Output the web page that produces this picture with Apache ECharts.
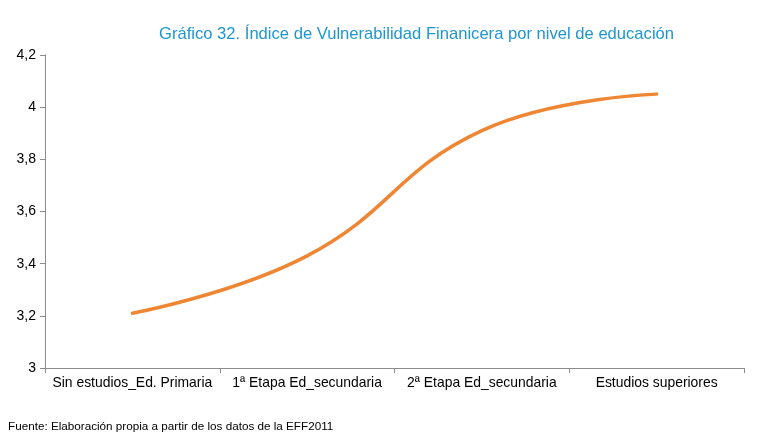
<!DOCTYPE html>
<html>
<head>
<meta charset="utf-8">
<script src="https://cdn.jsdelivr.net/npm/echarts@6/dist/echarts.min.js"></script>
<style>
html,body{margin:0;padding:0;background:#fff;}
#chart{width:763px;height:438px;}
</style>
</head>
<body>
<div id="chart"></div>
<script>
var categories = ['Sin estudios_Ed. Primaria', '1ª Etapa Ed_secundaria', '2ª Etapa Ed_secundaria', 'Estudios superiores'];
var values = [3.21, 3.43, 3.91, 4.05];
var yMin = 3, yMax = 4.2, yStep = 0.2;
var titleText = 'Gráfico 32. Índice de Vulnerabilidad Finanicera por nivel de educación';
var sourceText = 'Fuente: Elaboración propia a partir de los datos de la EFF2011';

var chart = echarts.init(document.getElementById('chart'), null, {renderer: 'canvas'});
var font = 'Liberation Sans, Arial, sans-serif';
chart.setOption({
  animation: false,
  backgroundColor: '#fff',
  title: {
    text: titleText,
    left: 154,
    top: 21,
    textStyle: {color: '#1E96D2', fontSize: 16.6, fontWeight: 'normal', fontFamily: font}
  },
  graphic: [{
    type: 'text',
    left: 8,
    top: 421,
    style: {text: sourceText, fill: '#000', font: '11.7px ' + font}
  }],
  grid: {left: 45, right: 19, top: 55, bottom: 70, containLabel: false},
  xAxis: {
    type: 'category',
    data: categories,
    boundaryGap: true,
    axisLine: {lineStyle: {color: '#8c8c8c', width: 1}},
    axisTick: {show: true, length: 5, lineStyle: {color: '#8c8c8c'}},
    axisLabel: {color: '#000', fontSize: 13.9, fontFamily: font, margin: 8, interval: 0},
    splitLine: {show: false}
  },
  yAxis: {
    type: 'value',
    min: yMin,
    max: yMax,
    interval: yStep,
    axisLine: {show: true, lineStyle: {color: '#8c8c8c', width: 1}},
    axisTick: {show: true, length: 5, lineStyle: {color: '#8c8c8c'}},
    axisLabel: {
      color: '#000', fontSize: 14, fontFamily: font, margin: 9,
      formatter: function (v) { return String(parseFloat(v.toFixed(1))).replace('.', ','); }
    },
    splitLine: {show: false}
  },
  series: [{
    type: 'line',
    data: values,
    smooth: 0.45,
    symbol: 'none',
    lineStyle: {color: '#EF8633', width: 3.5, cap: 'round'}
  }]
});
</script>
</body>
</html>
